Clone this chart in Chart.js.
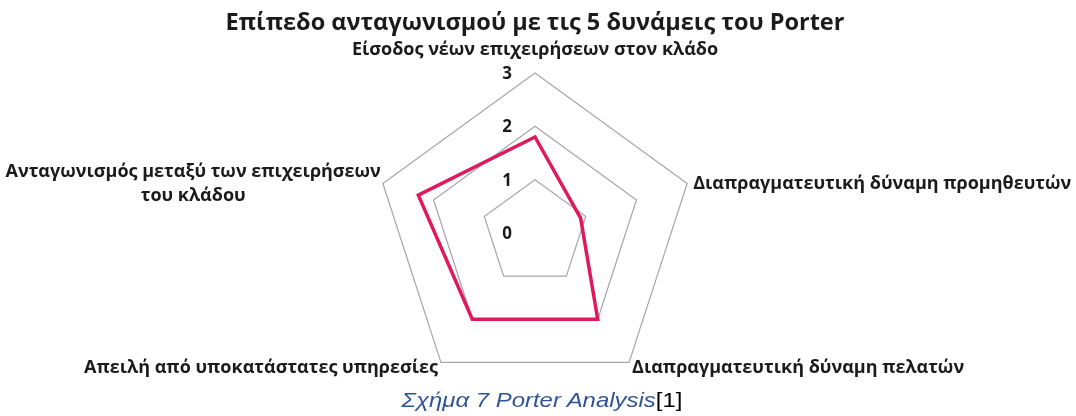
<!DOCTYPE html>
<html>
<head>
<meta charset="utf-8">
<script src="https://cdn.jsdelivr.net/npm/chart.js@4.4.1/dist/chart.umd.min.js"></script>
<style>
  body { margin: 0; background: #fff; }
  #wrap { position: relative; width: 1076px; height: 416px; }
  #caption {
    position: absolute; left: 0; top: 387px; width: 1084px;
    text-align: center; font-family: "Liberation Sans", Arial, sans-serif;
    font-size: 21px; line-height: 26px;
    transform: scaleX(1.14); transform-origin: 542px 0;
  }
  #caption i { color: #2F5597; }
</style>
</head>
<body>
<div id="wrap">
  <canvas id="porterChart" width="1076" height="416"></canvas>
  <div id="caption"><i>Σχήμα 7 Porter Analysis</i>[1]</div>
</div>
<script>
const categories = [
  'Είσοδος νέων επιχειρήσεων στον κλάδο',
  'Διαπραγματευτική δύναμη προμηθευτών',
  'Διαπραγματευτική δύναμη πελατών',
  'Απειλή από υποκατάστατες υπηρεσίες',
  ['Ανταγωνισμός μεταξύ των επιχειρήσεων', 'του κλάδου']
];
const levels = [1.8, 0.9, 2, 2, 2.3];
const tickValues = [0, 1, 2, 3];

const labelFont = 'bold 18px "Open Sans"';

// draws tick numbers and axis names ourselves, Excel-like placement
const porterLabels = {
  id: 'porterLabels',
  afterDraw(chart) {
    const s = chart.scales.r;
    const ctx = chart.ctx;
    ctx.save();
    ctx.fillStyle = '#1b1b1b';
    ctx.textBaseline = 'middle';

    ctx.font = 'bold 17px "Open Sans"';
    ctx.textAlign = 'center';
    tickValues.forEach(v => {
      ctx.fillText(String(v), s.xCenter - 28, s.yCenter + 1 - s.getDistanceFromCenterForValue(v));
    });

    ctx.font = labelFont;
    categories.forEach((lab, i) => {
      const p = s.getPointPosition(i, s.drawingArea);
      if (i === 0) {
        ctx.textAlign = 'center';
        ctx.fillText(lab, p.x, p.y - 23);
      } else if (i === 1) {
        ctx.textAlign = 'left';
        ctx.fillText(lab, p.x + 6, p.y);
      } else if (i === 2) {
        ctx.textAlign = 'left';
        ctx.fillText(lab, p.x + 3, p.y + 5);
      } else if (i === 3) {
        ctx.textAlign = 'right';
        ctx.fillText(lab, p.x - 3, p.y + 5);
      } else {
        const w = Math.max(...lab.map(t => ctx.measureText(t).width));
        const cx = p.x - 2 - w / 2;
        ctx.textAlign = 'center';
        lab.forEach((t, k) => ctx.fillText(t, cx, p.y - 12 + k * 24));
      }
    });
    ctx.restore();
  }
};

const ctx = document.getElementById('porterChart').getContext('2d');
new Chart(ctx, {
  type: 'radar',
  data: {
    labels: categories,
    datasets: [{
      data: levels,
      borderColor: '#E0195A',
      borderWidth: 3.5,
      pointRadius: 0,
      fill: false,
      tension: 0
    }]
  },
  options: {
    responsive: false,
    animation: false,
    layout: { padding: { left: 0, right: 6, top: 0, bottom: 23 } },
    plugins: {
      legend: { display: false },
      tooltip: { enabled: false },
      title: {
        display: true,
        text: 'Επίπεδο ανταγωνισμού με τις 5 δυνάμεις του Porter',
        color: '#1b1b1b',
        font: { family: 'Open Sans', size: 23.5, weight: 'bold' },
        padding: { top: 9, bottom: 35.8 }
      }
    },
    scales: {
      r: {
        min: 0,
        max: 3,
        ticks: { display: false, stepSize: 1 },
        grid: { color: '#A6A6A6', lineWidth: 1.2 },
        angleLines: { display: false },
        pointLabels: { display: false }
      }
    }
  },
  plugins: [porterLabels]
});
</script>
</body>
</html>
